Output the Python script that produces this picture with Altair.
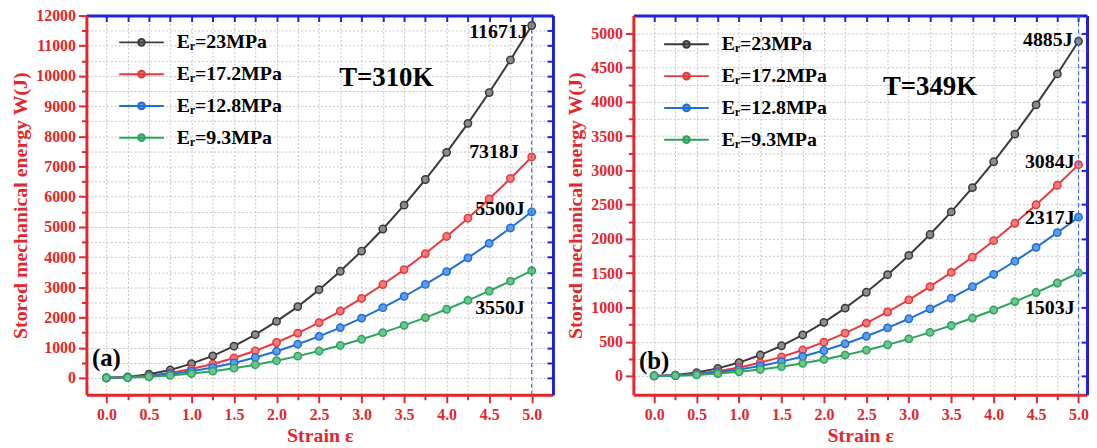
import altair as alt
import pandas as pd

# ---------------- data ----------------
strain = [0.0, 0.25, 0.5, 0.75, 1.0, 1.25, 1.5, 1.75, 2.0, 2.25, 2.5,
          2.75, 3.0, 3.25, 3.5, 3.75, 4.0, 4.25, 4.5, 4.75, 5.0]
series = ["Eᵣ=23MPa", "Eᵣ=17.2MPa", "Eᵣ=12.8MPa", "Eᵣ=9.3MPa"]

# (a) T = 310 K
w310_23 = [0, 30, 120, 260, 470, 730, 1050, 1430, 1870, 2360, 2920,
           3530, 4200, 4930, 5720, 6570, 7470, 8430, 9450, 10530, 11671]
w310_172 = [0, 18, 73, 165, 293, 457, 659, 896, 1171, 1482, 1830,
            2214, 2634, 3092, 3586, 4116, 4683, 5287, 5927, 6604, 7318]
w310_128 = [0, 14, 55, 124, 220, 344, 495, 674, 880, 1114, 1375,
            1664, 1980, 2324, 2695, 3094, 3520, 3974, 4455, 4964, 5500]
w310_93 = [0, 9, 36, 80, 142, 222, 320, 435, 568, 719, 888,
           1074, 1278, 1500, 1740, 1997, 2272, 2565, 2876, 3204, 3550]

# (b) T = 349 K
w349_23 = [0, 12, 49, 110, 195, 305, 440, 598, 782, 989, 1221,
           1478, 1759, 2064, 2394, 2748, 3126, 3529, 3957, 4408, 4885]
w349_172 = [0, 8, 31, 69, 123, 193, 278, 378, 493, 625, 771,
            933, 1110, 1303, 1511, 1735, 1974, 2228, 2498, 2783, 3084]
w349_128 = [0, 6, 23, 52, 93, 145, 209, 284, 371, 469, 579,
            701, 834, 979, 1135, 1303, 1483, 1674, 1877, 2091, 2317]
w349_93 = [0, 4, 15, 34, 60, 94, 135, 184, 240, 304, 376,
           455, 541, 635, 736, 845, 962, 1085, 1217, 1356, 1503]

end_labels_310 = ["11671J", "7318J", "5500J", "3550J"]
end_labels_349 = ["4885J", "3084J", "2317J", "1503J"]

x_ticks = strain
y_ticks_310 = list(range(0, 12001, 500))
y_ticks_349 = list(range(0, 5001, 250))
y_right_310 = list(range(0, 12001, 500))
y_right_349 = list(range(0, 5001, 500))

# ---------------- style ----------------
FONT = "Liberation Serif"
RED = "#e3262b"
BLUE = "#2020e0"
line_colors = ["#3a3a3a", "#e8383d", "#1f6fd6", "#2ea35c"]
fill_colors = ["#8c8c8c", "#f27c7c", "#5f9ce8", "#6cc48e"]
legend_path = "M-1,0L1,0M0.15,0A0.15,0.15,0,1,1,-0.15,0A0.15,0.15,0,1,1,0.15,0"


def make_panel(value_lists, end_labels, end_offsets, y_ticks, y_major, y_right,
               y_domain, x_domain, width, height, temp_text, temp_xy,
               tag, tag_xy, legend_xy):
    rows = []
    for name, vals in zip(series, value_lists):
        for s, v in zip(strain, vals):
            rows.append({"series": name, "strain": s, "W": v})
    df = pd.DataFrame(rows)

    xs = alt.Scale(domain=x_domain, nice=False, zero=False)
    ys = alt.Scale(domain=y_domain, nice=False, zero=False)

    x_axis = alt.Axis(
        values=x_ticks,
        labelExpr="datum.value % 0.5 === 0 ? format(datum.value, '.1f') : ''",
        tickSize={"condition": {"test": "datum.value % 0.5 === 0", "value": 8}, "value": 5},
        tickWidth=2, tickColor=RED, domainColor=RED, domainWidth=3,
        labelColor=RED, labelFont=FONT, labelFontWeight="bold", labelFontSize=16,
        labelPadding=4, labelOverlap=False, labelFlush=False,
        titleColor=RED, titleFont=FONT, titleFontWeight="bold", titleFontSize=20,
        titlePadding=3,
        grid=True, gridDash=[2, 2], gridColor="#c4c4c4", gridWidth=1,
    )
    y_axis = alt.Axis(
        values=y_ticks,
        labelExpr=f"datum.value % {y_major} === 0 ? format(datum.value, 'd') : ''",
        tickSize={"condition": {"test": f"datum.value % {y_major} === 0", "value": 8}, "value": 5},
        tickWidth=2, tickColor=RED, domainColor=RED, domainWidth=3,
        labelColor=RED, labelFont=FONT, labelFontWeight="bold", labelFontSize=16,
        labelPadding=3, labelOverlap=False, labelFlush=False,
        titleColor=RED, titleFont=FONT, titleFontWeight="bold", titleFontSize=20,
        titlePadding=5,
        grid=True, gridDash=[2, 2], gridColor="#c4c4c4", gridWidth=1,
    )

    base = alt.Chart(df)
    lines = base.mark_line(strokeWidth=2).encode(
        x=alt.X("strain:Q", scale=xs, axis=x_axis, title="Strain ε"),
        y=alt.Y("W:Q", scale=ys, axis=y_axis, title="Stored mechanical energy W(J)"),
        color=alt.Color(
            "series:N", sort=series,
            scale=alt.Scale(domain=series, range=line_colors),
            legend=alt.Legend(
                orient="none", legendX=legend_xy[0], legendY=legend_xy[1],
                title=None, symbolType=legend_path, symbolSize=2025,
                symbolStrokeWidth=2, clipHeight=20, rowPadding=12,
                labelFont=FONT, labelFontSize=20, labelFontWeight="bold",
                labelColor="black", labelOffset=12, padding=0, labelLimit=300,
            ),
        ),
        order="strain:Q",
    )
    points = base.mark_point(filled=True, size=55, strokeWidth=1.5, opacity=1).encode(
        x=alt.X("strain:Q", scale=xs, axis=None),
        y=alt.Y("W:Q", scale=ys, axis=None),
        stroke=alt.Stroke("series:N", sort=series,
                          scale=alt.Scale(domain=series, range=line_colors), legend=None),
        fill=alt.Fill("series:N", sort=series,
                      scale=alt.Scale(domain=series, range=fill_colors), legend=None),
    )
    rule = alt.Chart(pd.DataFrame({"strain": [strain[-1]]})).mark_rule(
        strokeDash=[4, 3], color="#3d72d4", strokeWidth=1.2
    ).encode(x=alt.X("strain:Q", scale=xs, axis=None))

    layers = [lines, points, rule]

    for i, (lab, vals) in enumerate(zip(end_labels, value_lists)):
        tdf = pd.DataFrame({"strain": [strain[-1]], "W": [vals[-1]], "label": [lab]})
        if i == 0:
            xa = alt.Axis(orient="bottom", offset=-height, values=x_ticks, labels=False,
                          tickSize=6, tickWidth=2, tickColor=BLUE, domainColor=BLUE,
                          domainWidth=3, grid=False, title=None)
            ya = alt.Axis(orient="left", offset=-width, values=y_right, labels=False,
                          tickSize=6, tickWidth=2, tickColor=BLUE, domainColor=BLUE,
                          domainWidth=3, grid=False, title=None)
        else:
            xa = None
            ya = None
        dx, dy = end_offsets[i]
        t = alt.Chart(tdf).mark_text(
            align="right", baseline="middle", dx=dx, dy=dy, font=FONT,
            fontWeight="bold", fontSize=20, color="black",
        ).encode(
            x=alt.X("strain:Q", scale=xs, axis=xa),
            y=alt.Y("W:Q", scale=ys, axis=ya),
            text="label:N",
        )
        layers.append(t)

    temp = alt.Chart(pd.DataFrame({"strain": [temp_xy[0]], "W": [temp_xy[1]], "t": [temp_text]})).mark_text(
        font=FONT, fontWeight="bold", fontSize=27, color="black", baseline="middle"
    ).encode(x=alt.X("strain:Q", scale=xs, axis=None), y=alt.Y("W:Q", scale=ys, axis=None), text="t:N")
    tagc = alt.Chart(pd.DataFrame({"strain": [tag_xy[0]], "W": [tag_xy[1]], "t": [tag]})).mark_text(
        font=FONT, fontWeight="bold", fontSize=25, color="black", baseline="middle"
    ).encode(x=alt.X("strain:Q", scale=xs, axis=None), y=alt.Y("W:Q", scale=ys, axis=None), text="t:N")
    layers += [temp, tagc]

    return alt.layer(*layers).resolve_axis(x="independent", y="independent").properties(
        width=width, height=height
    )


H = 382
left = make_panel(
    [w310_23, w310_172, w310_128, w310_93], end_labels_310,
    [(-4, 7), (-13, -5), (-7, -3), (-7, 38)],
    y_ticks_310, 1000, y_right_310, [-560, 12000], [-0.235, 5.25], 470, H,
    "T=310K", (3.29, 9930), "(a)", (0.0, 657), (32, 17),
)
right = make_panel(
    [w349_23, w349_172, w349_128, w349_93], end_labels_349,
    [(-6, -1), (-4, -3), (-4, 1), (-4, 35)],
    y_ticks_349, 500, y_right_349, [-275, 5260], [-0.245, 5.1], 457, H,
    "T=349K", (3.25, 4217), "(b)", (0.0, 217), (30, 19),
)

chart = alt.hconcat(left, right, spacing=12).resolve_scale(
    color="independent", stroke="independent", fill="independent"
).properties(
    padding={"left": 3, "top": -2, "right": 0, "bottom": 0},
    background="white",
).configure_view(stroke=None)

chart.save("out.html", embed_options={"renderer": "svg", "actions": False})
